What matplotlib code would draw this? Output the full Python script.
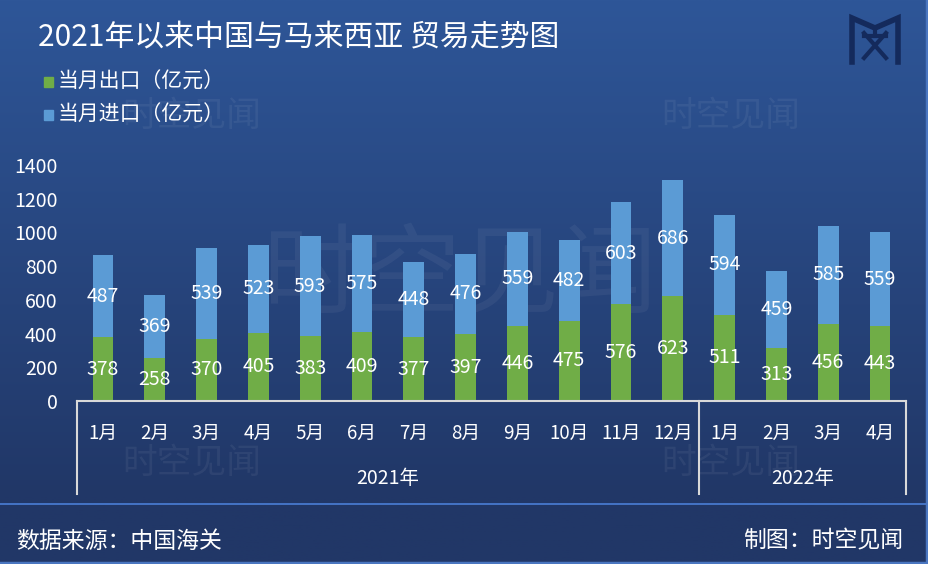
import matplotlib.pyplot as plt
import numpy as np
from matplotlib.lines import Line2D

plt.rcParams['font.family'] = ['Noto Sans CJK SC', 'DejaVu Sans']

months = ['1月', '2月', '3月', '4月', '5月', '6月', '7月', '8月', '9月', '10月', '11月', '12月',
          '1月', '2月', '3月', '4月']
years = ['2021年', '2022年']
year_counts = [12, 4]
exports = [378, 258, 370, 405, 383, 409, 377, 397, 446, 475, 576, 623, 511, 313, 456, 443]
imports = [487, 369, 539, 523, 593, 575, 448, 476, 559, 482, 603, 686, 594, 459, 585, 559]
yticks = [0, 200, 400, 600, 800, 1000, 1200, 1400]

W, H = 929, 564
green = '#70ad47'
blue = '#5b9bd5'
axis_col = '#d9d9d9'

fig = plt.figure(figsize=(W / 100, H / 100), dpi=100)

# background gradient
bg = fig.add_axes([0, 0, 1, 1], zorder=-10)
top = np.array([46, 86, 152]) / 255
bot = np.array([33, 55, 103]) / 255
t = np.linspace(0, 1, 300)[:, None]
t = np.clip(t / 0.88, 0, 1)
grad = top * (1 - t) + bot * t
bg.imshow(grad[:, None, :].repeat(2, axis=1), aspect='auto', extent=[0, 1, 0, 1])
bg.set_xlim(0, 1)
bg.set_ylim(0, 1)
bg.axis('off')

# watermarks
wm = dict(color='white', ha='center', va='center')
bg.text(460 / W, 1 - 278 / H, '时空见闻', fontsize=71, alpha=0.05, **wm)
for (px, py) in [(192, 117), (731, 117), (192, 464), (731, 464)]:
    bg.text(px / W, 1 - py / H, '时空见闻', fontsize=25, alpha=0.06, **wm)

# logo (approximate)
navy = '#142a5c'
def fx(px):
    return px / W
def fy(py):
    return 1 - py / H
lw = 4
bg.plot([fx(852), fx(852), fx(875), fx(898), fx(898)],
        [fy(62), fy(18), fy(28), fy(18), fy(62)], color=navy, lw=lw, solid_joinstyle='miter')
bg.plot([fx(864), fx(886)], [fy(36), fy(36)], color=navy, lw=3)
bg.plot([fx(864), fx(886)], [fy(33), fy(58)], color=navy, lw=3)
bg.plot([fx(886), fx(864)], [fy(33), fy(58)], color=navy, lw=3)
bg.plot([fx(875), fx(875)], [fy(28), fy(36)], color=navy, lw=3)

# title and legend
fig.text(38 / W, 1 - 38 / H, '2021年以来中国与马来西亚 贸易走势图', fontsize=21.5,
         color='white', va='center', ha='left')
for i, (lab, col) in enumerate([('当月出口（亿元）', green), ('当月进口（亿元）', blue)]):
    yy = 82 + 33 * i
    fig.patches.append(plt.Rectangle((44 / W, 1 - (yy + 5) / H), 9 / W, 10 / H,
                                     transform=fig.transFigure, color=col))
    fig.text(58 / W, 1 - yy / H, lab, fontsize=15, color='white', va='center', ha='left')

# main axes
x0, x1 = 77, 906
yb, yt = 401, 165
ax = fig.add_axes([x0 / W, 1 - yb / H, (x1 - x0) / W, (yb - yt) / H])
ax.patch.set_alpha(0)
x = np.arange(len(months))
bw = 0.4
ax.bar(x, exports, width=bw, color=green, zorder=2)
ax.bar(x, imports, width=bw, bottom=exports, color=blue, zorder=2)
for xi, e, im in zip(x, exports, imports):
    ax.text(xi, e / 2, str(e), ha='center', va='center', color='white', fontsize=14, zorder=3)
    ax.text(xi, e + im / 2, str(im), ha='center', va='center', color='white', fontsize=14, zorder=3)

ax.set_xlim(-0.5, len(months) - 0.5)
ax.set_ylim(0, 1400)
ax.set_yticks(yticks)
ax.set_yticklabels([str(v) for v in yticks], color='white', fontsize=14)
ax.tick_params(axis='y', length=0, pad=14)
ax.set_xticks([])
for s in ['top', 'right', 'left']:
    ax.spines[s].set_visible(False)
ax.spines['bottom'].set_color(axis_col)
ax.spines['bottom'].set_linewidth(1.5)

# category axis
ppu = (yb - yt) / 1400
def dy(py):
    return -(py - yb) / ppu
bounds = [-0.5]
for c in year_counts:
    bounds.append(bounds[-1] + c)
for b in bounds:
    ax.plot([b, b], [0, dy(494)], color=axis_col, lw=1.5, clip_on=False)
for xi, m in zip(x, months):
    ax.text(xi, dy(433), m, ha='center', va='center', color='white', fontsize=13.5)
for i, yl in enumerate(years):
    ax.text((bounds[i] + bounds[i + 1]) / 2, dy(479), yl, ha='center', va='center',
            color='white', fontsize=14)

# footer
fig.add_artist(Line2D([0, 1], [1 - 504 / H, 1 - 504 / H], color='#4a7fd6', lw=1.2))
fig.text(16 / W, 1 - 541 / H, '数据来源：中国海关', fontsize=16.5, color='white', va='center', ha='left')
fig.text(903 / W, 1 - 541 / H, '制图：时空见闻', fontsize=16.5, color='white', va='center', ha='right')

# frame
fig.add_artist(Line2D([1 - 1.5 / W, 1 - 1.5 / W], [0, 1], color='#4a76c0', lw=2.5))
fig.add_artist(Line2D([0, 1], [1.5 / H, 1.5 / H], color='#4a76c0', lw=2.5))

fig.savefig('out.png', dpi=100)
